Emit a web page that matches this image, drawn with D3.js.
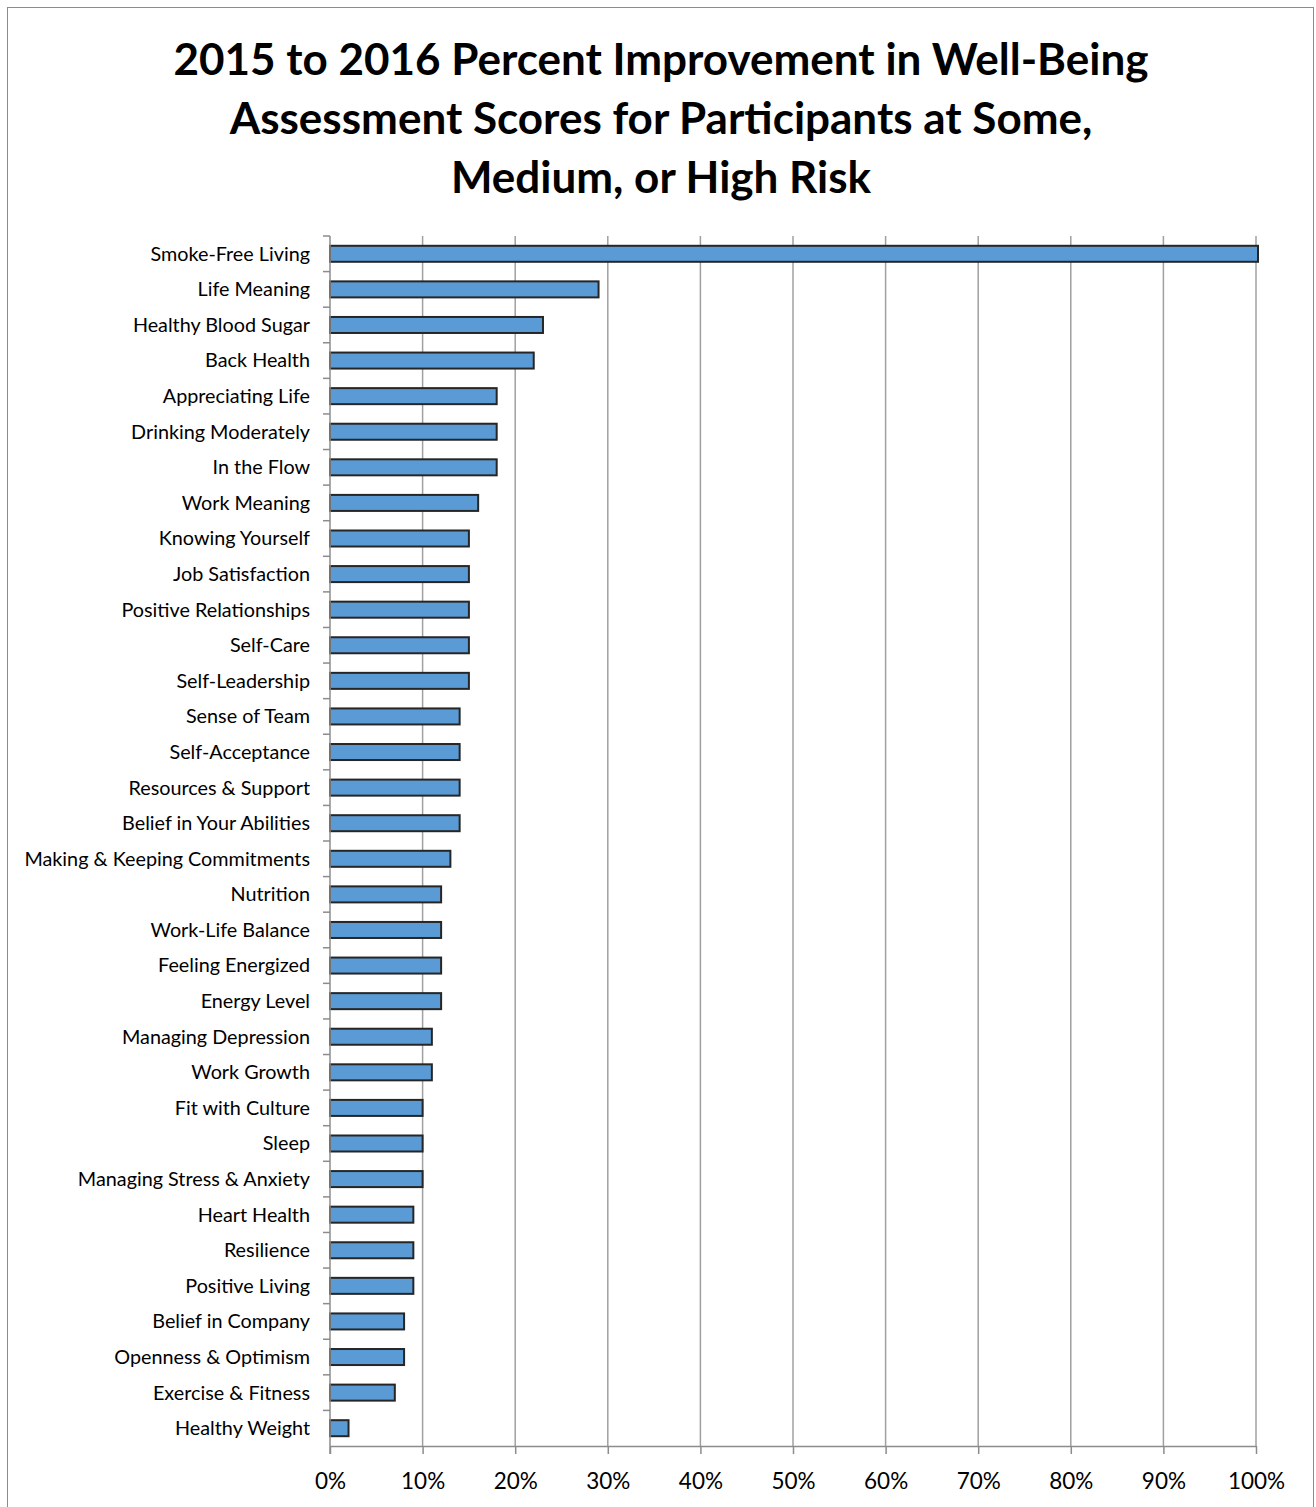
<!DOCTYPE html>
<html>
<head>
<meta charset="utf-8">
<script src="https://cdn.jsdelivr.net/npm/d3@7"></script>
<style>
  body { margin: 0; background: #fff; }
  svg { display: block; font-family: Lato, "Open Sans", sans-serif; }
</style>
</head>
<body>
<script>
// chart data
const categories = [
  "Smoke-Free Living", "Life Meaning", "Healthy Blood Sugar", "Back Health",
  "Appreciating Life", "Drinking Moderately", "In the Flow", "Work Meaning",
  "Knowing Yourself", "Job Satisfaction", "Positive Relationships", "Self-Care",
  "Self-Leadership", "Sense of Team", "Self-Acceptance", "Resources & Support",
  "Belief in Your Abilities", "Making & Keeping Commitments", "Nutrition",
  "Work-Life Balance", "Feeling Energized", "Energy Level", "Managing Depression",
  "Work Growth", "Fit with Culture", "Sleep", "Managing Stress & Anxiety",
  "Heart Health", "Resilience", "Positive Living", "Belief in Company",
  "Openness & Optimism", "Exercise & Fitness", "Healthy Weight"
]
const improvement = [
  100, 29, 23, 22, 18, 18, 18, 16, 15, 15, 15, 15, 15, 14, 14, 14, 14, 13,
  12, 12, 12, 12, 11, 11, 10, 10, 10, 9, 9, 9, 8, 8, 7, 2
]
const xTicks = [0, 10, 20, 30, 40, 50, 60, 70, 80, 90, 100]
const titleLines = [
  "2015 to 2016 Percent Improvement in Well-Being",
  "Assessment Scores for Participants at Some,",
  "Medium, or High Risk"
]

const W = 1316, H = 1507
const margin = {top: 236, right: 60, bottom: 61, left: 330}
const width = 1256 - margin.left
const height = 1446 - margin.top

const svg = d3.select("body").append("svg")
  .attr("width", W)
  .attr("height", H)

// outer frame
svg.append("rect")
  .attr("x", 7.5).attr("y", 7.5)
  .attr("width", 1306).attr("height", 1500)
  .attr("fill", "#fff")
  .attr("stroke", "#8c8c8c")

// title
svg.append("g").selectAll("text")
  .data(titleLines)
  .join("text")
  .attr("x", 661)
  .attr("y", (d, i) => 75 + i * 59)
  .attr("text-anchor", "middle")
  .attr("font-size", "44px")
  .attr("font-weight", "bold")
  .attr("fill", "#000")
  .text(d => d)

const xScale = d3.scaleLinear()
  .domain([0, 100])
  .range([margin.left, margin.left + width])

const yScale = d3.scaleBand()
  .domain(categories)
  .range([margin.top, margin.top + height])
  .paddingInner(0.55)
  .paddingOuter(0.275)

// gridlines
svg.append("g").selectAll("line")
  .data(xTicks.slice(1))
  .join("line")
  .attr("x1", d => xScale(d)).attr("x2", d => xScale(d))
  .attr("y1", margin.top).attr("y2", margin.top + height)
  .attr("stroke", "#a0a0a0")
  .attr("stroke-width", 1.5)

// bars
svg.append("g").selectAll("rect")
  .data(improvement)
  .join("rect")
  .attr("x", xScale(0))
  .attr("y", (d, i) => yScale(categories[i]))
  .attr("width", d => xScale(d) - xScale(0) + (d === 100 ? 2 : 0))
  .attr("height", yScale.bandwidth())
  .attr("fill", "#5b9bd5")
  .attr("stroke", "#262626")
  .attr("stroke-width", 2)

// y axis: line plus ticks at band boundaries
const yAxis = svg.append("g")
yAxis.append("line")
  .attr("x1", margin.left).attr("x2", margin.left)
  .attr("y1", margin.top).attr("y2", margin.top + height + 8)
  .attr("stroke", "#8c8c8c").attr("stroke-width", 1.5)
yAxis.selectAll("line.tick")
  .data(d3.range(categories.length))
  .join("line")
  .attr("class", "tick")
  .attr("x1", margin.left - 7).attr("x2", margin.left)
  .attr("y1", i => yScale(categories[i]) - yScale.step() * yScale.paddingInner() / 2)
  .attr("y2", i => yScale(categories[i]) - yScale.step() * yScale.paddingInner() / 2)
  .attr("stroke", "#8c8c8c").attr("stroke-width", 1.5)
yAxis.selectAll("text")
  .data(categories)
  .join("text")
  .attr("x", margin.left - 20)
  .attr("y", d => yScale(d) + yScale.bandwidth() / 2)
  .attr("dy", "0.35em")
  .attr("text-anchor", "end")
  .attr("font-size", "19.8px")
  .attr("fill", "#000")
  .text(d => d)

// x axis
const xAxis = svg.append("g")
  .attr("transform", "translate(0," + (margin.top + height) + ")")
  .call(d3.axisBottom(xScale).tickValues(xTicks).tickSize(8).tickSizeOuter(0).tickFormat(d => d + "%"))
xAxis.select(".domain").attr("stroke", "#8c8c8c").attr("stroke-width", 1.5)
xAxis.selectAll(".tick line").attr("stroke", "#8c8c8c").attr("stroke-width", 1.5)
xAxis.selectAll(".tick text")
  .attr("font-size", "22.5px")
  .attr("font-family", "Lato, 'Open Sans', sans-serif")
  .attr("fill", "#000")
  .attr("dy", "1.4em")
</script>
</body>
</html>
